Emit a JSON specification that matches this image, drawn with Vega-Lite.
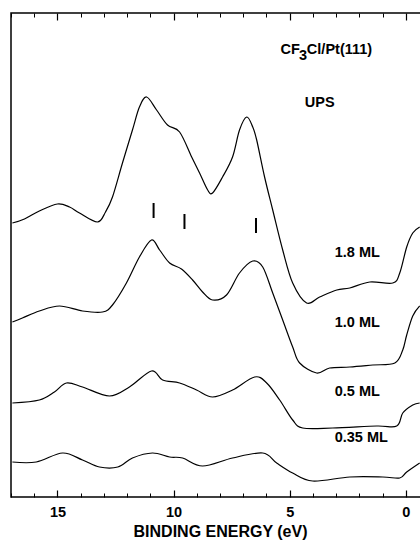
{
  "$schema": "https://vega.github.io/schema/vega-lite/v6.json",
  "autosize": {"type": "none"},
  "width": 418,
  "height": 484,
  "padding": {"left": 11, "top": 13, "right": 0, "bottom": 44},
  "background": "white",
  "config": {
    "view": {"stroke": "black", "strokeWidth": 1.5},
    "font": "Liberation Sans"
  },
  "datasets": {
    "spectra": [
      {"s": "1.8", "E": 16.94, "I": 274}, {"s": "1.8", "E": 16.42, "I": 278}, {"s": "1.8", "E": 15.78, "I": 286}, {"s": "1.8", "E": 15.0, "I": 293}, {"s": "1.8", "E": 14.48, "I": 290}, {"s": "1.8", "E": 14.05, "I": 284}, {"s": "1.8", "E": 13.28, "I": 275}, {"s": "1.8", "E": 12.93, "I": 285}, {"s": "1.8", "E": 12.63, "I": 300}, {"s": "1.8", "E": 12.2, "I": 334}, {"s": "1.8", "E": 11.77, "I": 367}, {"s": "1.8", "E": 11.47, "I": 390}, {"s": "1.8", "E": 11.16, "I": 400}, {"s": "1.8", "E": 10.73, "I": 387}, {"s": "1.8", "E": 10.26, "I": 372}, {"s": "1.8", "E": 9.74, "I": 365}, {"s": "1.8", "E": 9.22, "I": 340}, {"s": "1.8", "E": 8.88, "I": 324}, {"s": "1.8", "E": 8.53, "I": 307}, {"s": "1.8", "E": 8.32, "I": 304}, {"s": "1.8", "E": 7.89, "I": 320}, {"s": "1.8", "E": 7.46, "I": 340}, {"s": "1.8", "E": 7.16, "I": 367}, {"s": "1.8", "E": 6.85, "I": 380}, {"s": "1.8", "E": 6.59, "I": 370}, {"s": "1.8", "E": 6.42, "I": 357}, {"s": "1.8", "E": 6.08, "I": 320}, {"s": "1.8", "E": 5.73, "I": 287}, {"s": "1.8", "E": 5.3, "I": 247}, {"s": "1.8", "E": 4.87, "I": 214}, {"s": "1.8", "E": 4.27, "I": 194}, {"s": "1.8", "E": 3.71, "I": 200}, {"s": "1.8", "E": 2.97, "I": 207}, {"s": "1.8", "E": 2.41, "I": 209}, {"s": "1.8", "E": 1.55, "I": 215}, {"s": "1.8", "E": 0.56, "I": 214}, {"s": "1.8", "E": 0.26, "I": 224}, {"s": "1.8", "E": -0.04, "I": 250}, {"s": "1.8", "E": -0.3, "I": 264}, {"s": "1.8", "E": -0.6, "I": 270},
      {"s": "1.0", "E": 16.94, "I": 175}, {"s": "1.0", "E": 16.51, "I": 179}, {"s": "1.0", "E": 15.78, "I": 186}, {"s": "1.0", "E": 14.91, "I": 191}, {"s": "1.0", "E": 13.92, "I": 186}, {"s": "1.0", "E": 13.06, "I": 185}, {"s": "1.0", "E": 12.63, "I": 192}, {"s": "1.0", "E": 12.03, "I": 214}, {"s": "1.0", "E": 11.47, "I": 240}, {"s": "1.0", "E": 10.95, "I": 257}, {"s": "1.0", "E": 10.6, "I": 247}, {"s": "1.0", "E": 10.17, "I": 234}, {"s": "1.0", "E": 9.66, "I": 228}, {"s": "1.0", "E": 9.18, "I": 217}, {"s": "1.0", "E": 8.75, "I": 205}, {"s": "1.0", "E": 8.32, "I": 197}, {"s": "1.0", "E": 7.72, "I": 202}, {"s": "1.0", "E": 7.16, "I": 224}, {"s": "1.0", "E": 6.59, "I": 236}, {"s": "1.0", "E": 6.16, "I": 230}, {"s": "1.0", "E": 5.73, "I": 204}, {"s": "1.0", "E": 5.3, "I": 177}, {"s": "1.0", "E": 4.87, "I": 150}, {"s": "1.0", "E": 4.57, "I": 134}, {"s": "1.0", "E": 3.84, "I": 124}, {"s": "1.0", "E": 3.28, "I": 129}, {"s": "1.0", "E": 2.41, "I": 130}, {"s": "1.0", "E": 1.42, "I": 132}, {"s": "1.0", "E": 0.47, "I": 134}, {"s": "1.0", "E": 0.13, "I": 147}, {"s": "1.0", "E": -0.04, "I": 162}, {"s": "1.0", "E": -0.3, "I": 181}, {"s": "1.0", "E": -0.6, "I": 191},
      {"s": "0.5", "E": 16.94, "I": 94}, {"s": "0.5", "E": 15.78, "I": 97}, {"s": "0.5", "E": 15.13, "I": 105}, {"s": "0.5", "E": 14.61, "I": 114}, {"s": "0.5", "E": 13.92, "I": 110}, {"s": "0.5", "E": 12.76, "I": 101}, {"s": "0.5", "E": 11.9, "I": 110}, {"s": "0.5", "E": 10.95, "I": 126}, {"s": "0.5", "E": 10.47, "I": 117}, {"s": "0.5", "E": 9.74, "I": 114}, {"s": "0.5", "E": 9.01, "I": 107}, {"s": "0.5", "E": 8.32, "I": 100}, {"s": "0.5", "E": 7.46, "I": 107}, {"s": "0.5", "E": 6.51, "I": 120}, {"s": "0.5", "E": 5.99, "I": 114}, {"s": "0.5", "E": 5.43, "I": 97}, {"s": "0.5", "E": 4.87, "I": 77}, {"s": "0.5", "E": 4.44, "I": 69}, {"s": "0.5", "E": 3.15, "I": 69}, {"s": "0.5", "E": 1.25, "I": 71}, {"s": "0.5", "E": 0.39, "I": 71}, {"s": "0.5", "E": 0.13, "I": 84}, {"s": "0.5", "E": -0.3, "I": 92}, {"s": "0.5", "E": -0.6, "I": 94},
      {"s": "0.35", "E": 16.94, "I": 35}, {"s": "0.35", "E": 15.91, "I": 35}, {"s": "0.35", "E": 14.78, "I": 44}, {"s": "0.35", "E": 13.92, "I": 37}, {"s": "0.35", "E": 13.19, "I": 30}, {"s": "0.35", "E": 12.4, "I": 30}, {"s": "0.35", "E": 11.77, "I": 39}, {"s": "0.35", "E": 10.91, "I": 44}, {"s": "0.35", "E": 10.17, "I": 40}, {"s": "0.35", "E": 9.61, "I": 39}, {"s": "0.35", "E": 8.75, "I": 31}, {"s": "0.35", "E": 7.46, "I": 39}, {"s": "0.35", "E": 6.16, "I": 44}, {"s": "0.35", "E": 5.56, "I": 34}, {"s": "0.35", "E": 4.87, "I": 24}, {"s": "0.35", "E": 4.01, "I": 16}, {"s": "0.35", "E": 2.41, "I": 20}, {"s": "0.35", "E": 0.99, "I": 20}, {"s": "0.35", "E": 0.26, "I": 19}, {"s": "0.35", "E": -0.04, "I": 25}, {"s": "0.35", "E": -0.6, "I": 34}
    ],
    "markers": [
      {"E": 10.86, "I1": 279, "I2": 294},
      {"E": 9.53, "I1": 268, "I2": 283},
      {"E": 6.45, "I1": 264, "I2": 279}
    ],
    "labels": [
      {"E": 5.39, "I": 447, "t": "CF"},
      {"E": 4.6, "I": 441, "t": "3"},
      {"E": 4.26, "I": 447, "t": "Cl/Pt(111)"},
      {"E": 4.35, "I": 394, "t": "UPS"},
      {"E": 3.06, "I": 244, "t": "1.8 ML"},
      {"E": 3.06, "I": 174, "t": "1.0 ML"},
      {"E": 3.06, "I": 105, "t": "0.5 ML"},
      {"E": 3.06, "I": 59, "t": "0.35 ML"}
    ]
  },
  "resolve": {"axis": {"x": "independent"}},
  "layer": [
    {
      "data": {"name": "spectra"},
      "mark": {"type": "line", "color": "black", "strokeWidth": 1.2, "interpolate": "cardinal", "clip": true},
      "encoding": {
        "x": {"field": "E", "type": "quantitative",
              "scale": {"domain": [17, -1], "nice": false, "zero": false},
              "axis": {"orient": "bottom", "values": [15, 10, 5, 0], "tickSize": -7, "tickColor": "black", "tickWidth": 1.2,
                       "domain": false, "grid": false, "labelFont": "Liberation Sans", "labelFontWeight": "bold", "labelFontSize": 14.5,
                       "labelColor": "black", "labelPadding": 15, "labelFlush": false,
                       "title": "BINDING ENERGY (eV)", "titleFont": "Liberation Sans", "titleFontWeight": "bold", "titleFontSize": 16,
                       "titleColor": "black", "titlePadding": 5}},
        "y": {"field": "I", "type": "quantitative", "scale": {"domain": [0, 484], "nice": false, "zero": false}, "axis": null},
        "detail": {"field": "s"}
      }
    },
    {
      "data": {"name": "markers"},
      "mark": {"type": "rule", "color": "black", "strokeWidth": 2},
      "encoding": {
        "x": {"field": "E", "type": "quantitative",
              "axis": {"orient": "bottom", "values": [17, 16, 14, 13, 12, 11, 9, 8, 7, 6, 4, 3, 2, 1], "tickSize": -4, "tickColor": "black",
                       "domain": false, "grid": false, "labels": false, "title": null}},
        "y": {"field": "I1", "type": "quantitative"},
        "y2": {"field": "I2"}
      }
    },
    {
      "data": {"name": "labels"},
      "mark": {"type": "text", "align": "left", "baseline": "middle", "font": "Liberation Sans", "fontWeight": "bold", "fontSize": 14.5, "color": "black"},
      "encoding": {
        "x": {"field": "E", "type": "quantitative",
              "axis": {"orient": "top", "values": [15, 10, 5, 0], "tickSize": -7, "tickColor": "black", "tickWidth": 1.2,
                       "domain": false, "grid": false, "labels": false, "title": null}},
        "y": {"field": "I", "type": "quantitative"},
        "text": {"field": "t"}
      }
    },
    {
      "data": {"name": "markers"},
      "mark": {"type": "rule", "opacity": 0},
      "encoding": {
        "x": {"field": "E", "type": "quantitative",
              "axis": {"orient": "top", "values": [17, 16, 14, 13, 12, 11, 9, 8, 7, 6, 4, 3, 2, 1], "tickSize": -4, "tickColor": "black",
                       "domain": false, "grid": false, "labels": false, "title": null}}
      }
    }
  ]
}
